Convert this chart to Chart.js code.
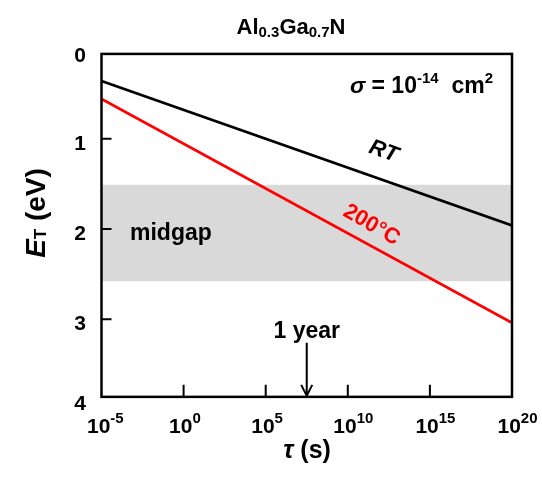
<!DOCTYPE html>
<html>
<head>
<meta charset="utf-8">
<script src="https://cdn.jsdelivr.net/npm/chart.js@4/dist/chart.umd.min.js"></script>
<style>
  html, body { margin: 0; padding: 0; background: #fff; }
  canvas { display: block; }
</style>
</head>
<body>
<canvas id="c" width="542" height="477"></canvas>
<script>
// Trap emission time τ versus trap energy E_T in Al0.3Ga0.7N (σ = 1e-14 cm²)
const tauRange = [1e-5, 1e20];          // τ (s) at the two ends of each line
const energyRT = [0.36, 1.96];          // E_T (eV), room temperature
const energy200C = [0.56, 3.04];        // E_T (eV), 200 °C
const midgapBand = [1.51, 2.58];        // E_T (eV), shaded midgap region
const xTickExponents = [-5, 0, 5, 10, 15, 20];
const yTickValues = [0, 1, 2, 3, 4];
const oneYear = 3.156e7;                // s
const arrowStart = 3.26;                // E_T where the 1-year arrow begins
const frameRange = [0.06, 3.86];        // E_T span enclosed by the plot frame

const FONT = '"Liberation Sans", Arial, Helvetica, sans-serif';
const pts = (ys) => tauRange.map((x, i) => ({ x, y: ys[i] }));
const flat = (v) => tauRange.map((x) => ({ x, y: v }));

// draw a sequence of text runs (for sub/superscripts) starting at x
function runsWidth(ctx, runs) {
  let w = 0;
  for (const r of runs) { ctx.font = r.font; w += ctx.measureText(r.t).width; }
  return w;
}
function drawRuns(ctx, runs, x, y, align, color) {
  const w = runsWidth(ctx, runs);
  let cx = align === 'center' ? x - w / 2 : align === 'right' ? x - w : x;
  ctx.textAlign = 'left';
  ctx.textBaseline = 'alphabetic';
  for (const r of runs) {
    ctx.font = r.font;
    ctx.fillStyle = r.color || color || '#000';
    ctx.fillText(r.t, cx, y + (r.dy || 0));
    cx += ctx.measureText(r.t).width;
  }
}

const decorations = {
  id: 'decorations',
  afterDatasetsDraw(chart) {
    const { ctx, chartArea: a, scales: { x, y } } = chart;
    const top = y.getPixelForValue(frameRange[0]);
    const bottom = y.getPixelForValue(frameRange[1]);
    ctx.save();

    // frame
    ctx.strokeStyle = '#000';
    ctx.lineWidth = 2.5;
    ctx.strokeRect(a.left, top, a.right - a.left, bottom - top);

    // inward tick marks
    ctx.lineWidth = 2;
    ctx.beginPath();
    for (const v of yTickValues) {
      const py = y.getPixelForValue(v);
      if (py <= top + 2 || py >= bottom - 2) continue;
      ctx.moveTo(a.left, py); ctx.lineTo(a.left + 10, py);
    }
    for (const e of xTickExponents) {
      const px = x.getPixelForValue(Math.pow(10, e));
      if (px <= a.left + 2 || px >= a.right - 2) continue;
      ctx.moveTo(px, bottom); ctx.lineTo(px, bottom - 12);
    }
    ctx.stroke();

    // y tick labels (end labels sit at the frame corners)
    ctx.fillStyle = '#000';
    ctx.font = 'bold 21px ' + FONT;
    ctx.textAlign = 'right';
    ctx.textBaseline = 'middle';
    for (const v of yTickValues) {
      const py = Math.min(Math.max(y.getPixelForValue(v) + 5, top + 2), bottom + 7);
      ctx.fillText(String(v), 86, py);
    }

    // x tick labels 10^n
    for (const e of xTickExponents) {
      const px = x.getPixelForValue(Math.pow(10, e));
      drawRuns(ctx, [
        { t: '10', font: 'bold 21px ' + FONT },
        { t: e < 0 ? '-' + Math.abs(e) : String(e), font: 'bold 15px ' + FONT, dy: -10 }
      ], px - 14.5, 433, 'left');
    }

    // axis titles
    drawRuns(ctx, [
      { t: 'τ', font: 'italic bold 25px ' + FONT },
      { t: ' (s)', font: 'bold 25px ' + FONT }
    ], 307, 458, 'center');

    ctx.save();
    ctx.translate(45, 213);
    ctx.rotate(-Math.PI / 2);
    drawRuns(ctx, [
      { t: 'E', font: 'italic bold 28px ' + FONT },
      { t: 'T', font: 'bold 17px ' + FONT, dy: 1 },
      { t: ' (eV)', font: 'bold 28px ' + FONT }
    ], 0, 0, 'center');
    ctx.restore();

    // title
    drawRuns(ctx, [
      { t: 'Al', font: 'bold 22px ' + FONT },
      { t: '0.3', font: 'bold 15px ' + FONT, dy: 3 },
      { t: 'Ga', font: 'bold 22px ' + FONT },
      { t: '0.7', font: 'bold 15px ' + FONT, dy: 3 },
      { t: 'N', font: 'bold 22px ' + FONT }
    ], 291, 34, 'center');

    // capture cross-section note
    drawRuns(ctx, [
      { t: 'σ', font: 'italic bold 23px ' + FONT },
      { t: ' = 10', font: 'bold 23px ' + FONT },
      { t: '-14', font: 'bold 15px ' + FONT, dy: -10 },
      { t: '  cm', font: 'bold 23px ' + FONT },
      { t: '2', font: 'bold 15px ' + FONT, dy: -10 }
    ], 493, 93, 'right');

    // curve labels
    ctx.save();
    ctx.translate(383.5, 151.5);
    ctx.rotate(20 * Math.PI / 180);
    ctx.font = 'italic bold 22px ' + FONT;
    ctx.fillStyle = '#000';
    ctx.textAlign = 'center';
    ctx.textBaseline = 'middle';
    ctx.fillText('RT', 0, 0);
    ctx.restore();

    ctx.save();
    ctx.translate(371.5, 225);
    ctx.rotate(30 * Math.PI / 180);
    ctx.font = 'bold 22px ' + FONT;
    ctx.fillStyle = '#ff0000';
    ctx.textAlign = 'center';
    ctx.textBaseline = 'middle';
    ctx.fillText('200°C', 0, 0);
    ctx.restore();

    // midgap label
    ctx.font = 'bold 23px ' + FONT;
    ctx.fillStyle = '#000';
    ctx.textAlign = 'left';
    ctx.textBaseline = 'alphabetic';
    ctx.fillText('midgap', 130, 240);

    // 1-year marker
    const ax = x.getPixelForValue(oneYear);
    const ay0 = y.getPixelForValue(arrowStart);
    const tip = bottom - 1;
    ctx.strokeStyle = '#000';
    ctx.lineWidth = 2;
    ctx.beginPath();
    ctx.moveTo(ax, ay0); ctx.lineTo(ax, tip);
    ctx.moveTo(ax - 5.5, tip - 11); ctx.lineTo(ax, tip); ctx.lineTo(ax + 5.5, tip - 11);
    ctx.stroke();
    ctx.font = 'bold 23px ' + FONT;
    ctx.textAlign = 'center';
    ctx.fillText('1 year', ax, 338);

    ctx.restore();
  }
};

new Chart(document.getElementById('c'), {
  type: 'line',
  data: {
    datasets: [
      { label: 'RT', data: pts(energyRT), borderColor: '#000000', borderWidth: 2.8,
        pointRadius: 0, fill: false, order: 1 },
      { label: '200°C', data: pts(energy200C), borderColor: '#ff0000', borderWidth: 2.8,
        pointRadius: 0, fill: false, order: 1 },
      { label: 'midgap upper', data: flat(midgapBand[0]), borderColor: 'rgba(0,0,0,0)',
        borderWidth: 0, pointRadius: 0, fill: false, order: 2 },
      { label: 'midgap', data: flat(midgapBand[1]), borderColor: 'rgba(0,0,0,0)',
        borderWidth: 0, pointRadius: 0, backgroundColor: '#d9d9d9', fill: '-1', order: 2 }
    ]
  },
  options: {
    responsive: false,
    animation: false,
    events: [],
    layout: { padding: { top: 48.5, right: 30, left: 0, bottom: 0 } },
    plugins: { legend: { display: false }, tooltip: { enabled: false }, title: { display: false } },
    scales: {
      x: {
        type: 'logarithmic', min: tauRange[0], max: tauRange[1],
        grid: { display: false }, border: { display: false }, ticks: { display: false },
        afterFit(s) { s.height = 67.5; }
      },
      y: {
        type: 'linear', reverse: true, min: 0, max: 4,
        grid: { display: false }, border: { display: false }, ticks: { display: false },
        afterFit(s) { s.width = 101.5; }
      }
    }
  },
  plugins: [decorations]
});
</script>
</body>
</html>
